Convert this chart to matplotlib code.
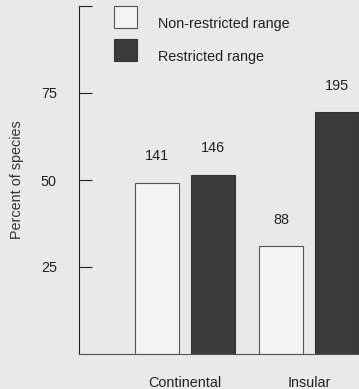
import numpy as np
import matplotlib.pyplot as plt
from matplotlib.patches import Rectangle

plt.rcParams['font.family'] = ['Liberation Sans', 'DejaVu Sans']

groups = ["Continental", "Insular"]
nonrestricted = [49.2, 31.0]
restricted = [51.5, 69.5]
n_nonrestricted = [141, 88]
n_restricted = [146, 195]

bg = '#e9e9e7'
light = '#f3f3f1'
dark = '#3b3b3b'
fs = 10.4

fig = plt.figure(figsize=(3.59, 3.89), dpi=100, facecolor=bg)
ax = fig.add_axes([79/359, 35/389, 1 - 79/359, 348/389])
ax.set_facecolor(bg)

x = np.arange(len(groups))
w = 0.35
off = 0.227
b1 = ax.bar(x - off, nonrestricted, w, color=light, edgecolor='#555555', linewidth=0.8)
b2 = ax.bar(x + off, restricted, w, color=dark, edgecolor='#333333', linewidth=0.8)

for bars, ns in [(b1, n_nonrestricted), (b2, n_restricted)]:
    for b, n in zip(bars, ns):
        ax.annotate(str(n), (b.get_x() + b.get_width()/2, b.get_height()),
                    xytext=(0, 14), textcoords='offset points',
                    ha='center', va='bottom', fontsize=fs, color='#222222')

ax.set_xlim(-0.855, 1.403)
ax.set_ylim(0, 100)
ax.set_yticks([25, 50, 75, 100])
ax.set_yticklabels(['25', '50', '75', ''])
ax.tick_params(axis='y', direction='in', length=9, width=0.8, pad=16,
               labelsize=fs, colors='#222222')
ax.set_xticks(x)
ax.set_xticklabels(groups)
ax.tick_params(axis='x', length=0, pad=16, labelsize=fs, colors='#222222')
for s in ['top', 'right']:
    ax.spines[s].set_visible(False)
ax.spines['left'].set_color('#222222')
ax.spines['bottom'].set_color('#555555')
ax.set_ylabel("Percent of species", fontsize=fs, color='#333333', labelpad=12)

# legend drawn as boxes + text
leg = [("Non-restricted range", light, '#555555', 6, 24),
       ("Restricted range", dark, '#333333', 39, 57)]
for label, fc, ec, ytop, ytext in leg:
    fig.patches.append(Rectangle((114/359, 1 - (ytop + 22)/389), 23/359, 22/389,
                                 transform=fig.transFigure, facecolor=fc,
                                 edgecolor=ec, linewidth=0.8))
    fig.text(158/359, 1 - ytext/389, label, fontsize=fs, va='center',
             ha='left', color='#222222')

fig.savefig("out.png", dpi=100, facecolor=bg)
